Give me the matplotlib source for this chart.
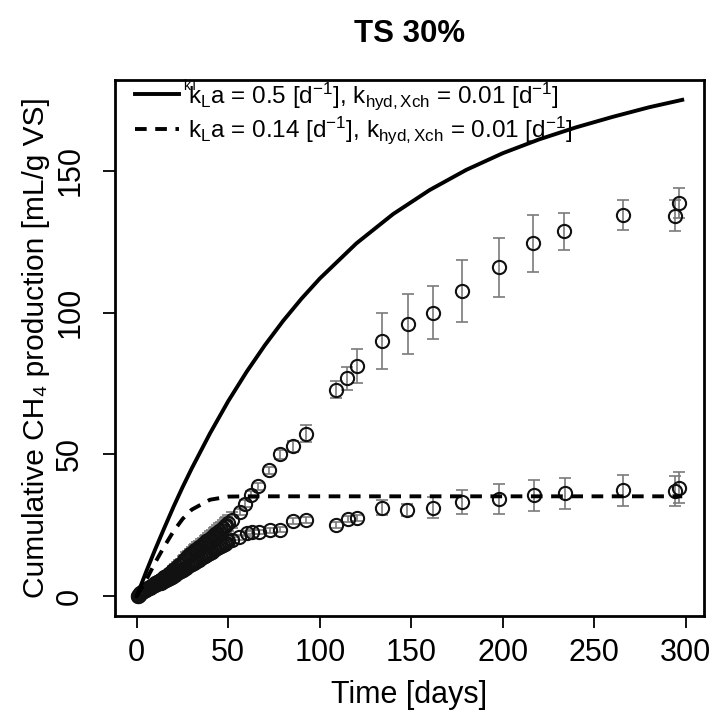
import matplotlib
matplotlib.use("Agg")
import matplotlib.pyplot as plt
from matplotlib import font_manager

installed = {f.name for f in font_manager.fontManager.ttflist}
narrow = 'Liberation Sans Narrow' in installed

plt.rcParams['font.family'] = (['Liberation Sans Narrow'] if narrow else []) + ['Liberation Sans', 'DejaVu Sans']
plt.rcParams['mathtext.fontset'] = 'custom'
plt.rcParams['mathtext.rm'] = 'Liberation Sans'
plt.rcParams['mathtext.it'] = 'Liberation Sans:italic'

# measured series, high kLa reactor (upper points)
days_a = [0.5, 1, 2, 3, 4, 5, 6, 7, 8, 9, 10, 11, 12, 13, 14, 15, 16, 17, 18, 19,
          20, 21, 22, 23, 24, 25, 26, 27, 28, 29, 30, 31, 32, 33, 34, 35, 36, 37,
          38, 39, 40, 41, 42, 43, 44, 45, 46, 47, 48, 49, 50, 52,
          56.6, 59.3, 62.3, 66.5, 72.4, 78.2, 85.1, 92.3, 109.1, 115.1, 120.1,
          134.0, 148.1, 161.6, 177.9, 197.8, 216.7, 233.5, 265.5, 294.0, 296.4]
cum_a = [0.2, 0.5, 1.0, 1.5, 2.0, 2.4, 2.9, 3.3, 3.7, 4.1, 4.5, 4.9, 5.3, 5.7, 6.1,
         6.6, 7.0, 7.5, 8.0, 8.5, 9.1, 9.7, 10.3, 10.9, 11.5, 12.2, 12.8, 13.5,
         14.1, 14.7, 15.3, 15.8, 16.3, 16.8, 17.3, 17.8, 18.3, 18.8, 19.3, 19.8,
         20.3, 20.8, 21.3, 21.8, 22.4, 23.0, 23.5, 24.1, 24.7, 25.2, 25.8, 26.9,
         29.7, 32.6, 35.8, 38.7, 44.4, 50.0, 52.8, 57.3, 72.8, 76.8, 81.0,
         89.9, 96.0, 100.0, 107.7, 115.9, 124.4, 128.6, 134.4, 134.2, 138.7]
err_a = [0.3, 0.4, 0.5, 0.6, 0.7, 0.8, 0.8, 0.9, 0.9, 1.0, 1.0, 1.1, 1.1, 1.2, 1.2,
         1.3, 1.3, 1.4, 1.4, 1.5, 1.5, 1.6, 1.6, 1.7, 1.7, 1.8, 1.8, 1.9, 1.9,
         2.0, 2.0, 2.1, 2.1, 2.2, 2.2, 2.3, 2.3, 2.4, 2.4, 2.5, 2.5, 2.5, 2.6,
         2.6, 2.6, 2.7, 2.7, 2.7, 2.8, 2.8, 2.8, 2.8,
         1.2, 1.2, 1.2, 1.2, 1.2, 1.5, 2.0, 3.0, 3.0, 4.0, 6.0,
         9.9, 10.7, 9.3, 11.0, 10.5, 10.0, 6.5, 5.4, 5.5, 5.3]

# measured series, low kLa reactor (lower points)
days_b = [0.5, 1, 2, 3, 4, 5, 6, 7, 8, 9, 10, 11, 12, 13, 14, 15, 16, 17, 18, 19,
          20, 21, 22, 23, 24, 25, 26, 27, 28, 29, 30, 31, 32, 33, 34, 35, 36, 37,
          38, 39, 40, 41, 42, 43, 44, 45, 46, 47, 48, 49, 50, 52,
          55.6, 60.2, 62.9, 67.0, 72.8, 78.2, 85.1, 92.3, 109.1, 115.2, 120.1,
          134.2, 147.9, 162.0, 177.7, 197.9, 216.9, 233.8, 265.7, 294.0, 296.4]
cum_b = [0.1, 0.4, 0.9, 1.4, 1.9, 2.3, 2.7, 3.0, 3.3, 3.6, 3.9, 4.2, 4.5, 4.8, 5.1,
         5.4, 5.8, 6.1, 6.5, 6.8, 7.2, 7.6, 8.0, 8.4, 8.8, 9.2, 9.6, 10.0, 10.5,
         10.9, 11.3, 11.7, 12.1, 12.5, 12.9, 13.3, 13.7, 14.1, 14.5, 14.9, 15.3,
         15.7, 16.1, 16.5, 16.9, 17.3, 17.7, 18.1, 18.5, 18.9, 19.3, 19.9,
         20.7, 22.1, 22.6, 22.6, 23.2, 23.5, 26.4, 26.8, 25.2, 27.2, 27.6,
         31.2, 30.5, 31.2, 33.2, 34.2, 35.6, 36.2, 37.3, 37.1, 38.3]
err_b = [0.2, 0.2, 0.3, 0.3, 0.3, 0.4, 0.4, 0.4, 0.5, 0.5, 0.5, 0.5, 0.6, 0.6, 0.6,
         0.6, 0.7, 0.7, 0.7, 0.7, 0.8, 0.8, 0.8, 0.8, 0.8, 0.9, 0.9, 0.9, 0.9,
         0.9, 1.0, 1.0, 1.0, 1.0, 1.0, 1.0, 1.0, 1.0, 1.0, 1.0, 1.0, 1.0, 1.0,
         1.0, 1.0, 1.0, 1.0, 1.0, 1.0, 1.0, 1.0, 1.0,
         0.8, 0.8, 0.8, 0.8, 0.8, 0.8, 1.0, 1.0, 1.0, 1.0, 1.0,
         2.7, 2.1, 3.7, 4.4, 5.3, 5.5, 5.3, 5.5, 5.4, 5.4]

# model curves
model_t = [0, 5, 10, 15, 20, 25, 30, 40, 50, 60, 70, 80, 90, 100, 120, 140, 160,
           180, 200, 220, 240, 260, 280, 298]
model_hi = [0, 8.4, 16.4, 24.0, 31.4, 38.4, 45.0, 57.4, 68.8, 79.1, 88.5, 97.1,
            104.9, 112.0, 124.4, 134.7, 143.2, 150.3, 156.2, 161.1, 165.3, 169.0,
            172.4, 175.0]
model_lo = [0, 5.5, 11.8, 17.5, 22.8, 27.2, 30.5, 34.0, 35.1, 35.2, 35.2, 35.2,
            35.2, 35.2, 35.2, 35.2, 35.2, 35.2, 35.2, 35.2, 35.2, 35.2, 35.2, 35.2]

label_hi = r"k$_\mathrm{L}$a = 0.5 [d$^{-1}$], k$_\mathrm{hyd,Xch}$ = 0.01 [d$^{-1}$]"
label_lo = r"k$_\mathrm{L}$a = 0.14 [d$^{-1}$], k$_\mathrm{hyd,Xch}$ = 0.01 [d$^{-1}$]"

fs = 26 if narrow else 22
fs_ylab = 25.3 if narrow else 21.5
fs_title = 27 if narrow else 22.5

W, H = 713, 717
fig = plt.figure(figsize=(W / 100, H / 100), dpi=100)
ax = fig.add_axes([115 / W, 1 - 616 / H, (704 - 115) / W, (616 - 80) / H])

for d, c, e in [(days_a, cum_a, err_a), (days_b, cum_b, err_b)]:
    ax.errorbar(d, c, yerr=e, fmt='none', ecolor='#7a7a7a', elinewidth=1.2,
                capsize=4.5, capthick=1.2, zorder=2)
    ax.plot(d, c, 'o', ms=9.5, mfc='none', mec='#111111', mew=1.5, zorder=3)

ax.plot(model_t, model_hi, '-', color='black', lw=2.8, label=label_hi, zorder=4)
ax.plot(model_t, model_lo, '--', color='black', lw=2.8, dashes=(3, 2.2),
        label=label_lo, zorder=4)

ax.set_xlim(-11.9, 309.9)
ax.set_ylim(-7, 182)
ax.set_xticks([0, 50, 100, 150, 200, 250, 300])
ax.set_yticks([0, 50, 100, 150])
ax.tick_params(labelsize=fs, length=8.5, width=1.3, direction='out')
ax.tick_params(axis='x', pad=7)
ax.tick_params(axis='y', pad=13)
for lab in ax.get_yticklabels():
    lab.set_rotation(90)
    lab.set_va('center')
for s in ax.spines.values():
    s.set_linewidth(2)

ax.set_xlabel("Time [days]", fontsize=fs, labelpad=9)
# unicode subscript keeps the label in the same (narrow) face as the ticks
ax.set_ylabel("Cumulative CH\u2084 production [mL/g VS]", fontsize=fs_ylab, labelpad=4)
ax.set_title("TS 30%", fontsize=fs_title, fontweight='bold', pad=27)

leg_font = font_manager.FontProperties(family=['Liberation Sans', 'DejaVu Sans'], size=17.5)
leg = ax.legend(loc='upper left', bbox_to_anchor=(135 / W, 1 - 80 / H),
                bbox_transform=fig.transFigure, frameon=False, prop=leg_font,
                handlelength=1.8, handletextpad=0.4, labelspacing=0.12,
                borderpad=0, borderaxespad=0)
fig.text(183 / W, 1 - 79 / H, "kT", fontsize=10, va='top', ha='left',
         family=['Liberation Sans', 'DejaVu Sans'])

fig.savefig("out.png", dpi=100)
